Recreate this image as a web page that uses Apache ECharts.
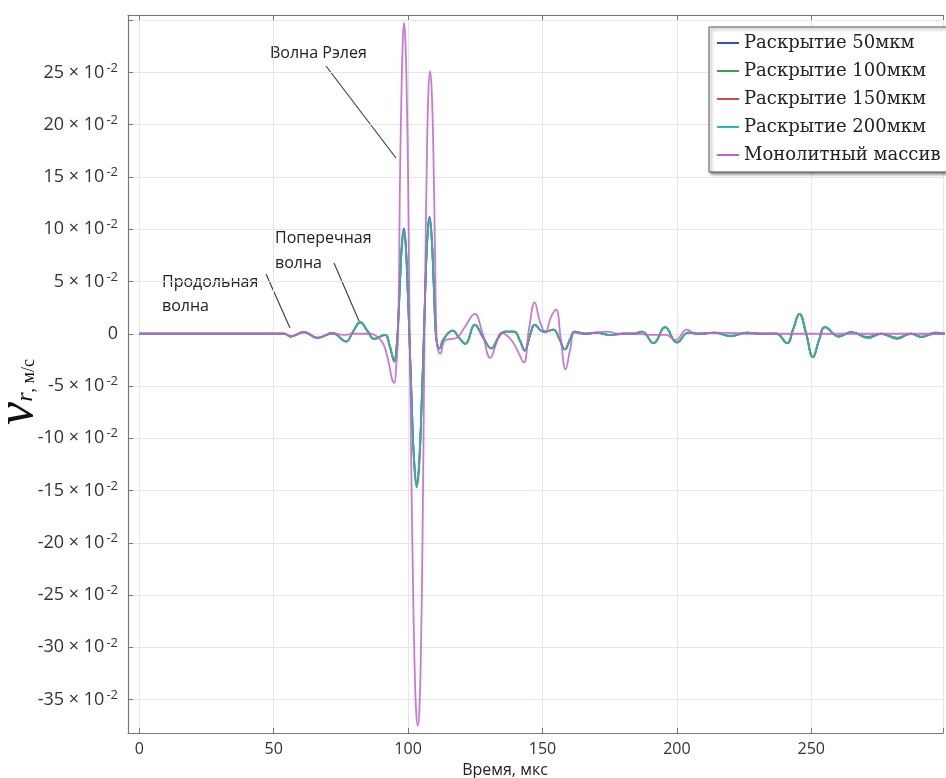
<!DOCTYPE html>
<html>
<head>
<meta charset="utf-8">
<script src="https://cdn.jsdelivr.net/npm/echarts@6/dist/echarts.min.js"></script>
<style>
  html, body { margin: 0; padding: 0; background: #fff; }
  #chart { width: 946px; height: 778px; }
</style>
</head>
<body>
<div id="chart"></div>
<script>
// Series names shown in the legend
const seriesNames = ['Раскрытие 50мкм', 'Раскрытие 100мкм', 'Раскрытие 150мкм', 'Раскрытие 200мкм', 'Монолитный массив'];

// Time samples (мкс) for the jointed-massif traces
const tOpen = [
  0, 50, 54, 56.3, 61.3, 66.3, 71.9, 76.9, 79.5, 82.2,
  84.8, 87.4, 91.3, 93.2, 94.2, 94.9, 95.6, 96.2, 97.0, 97.7,
  98.4, 99.1, 99.8, 100.6, 101.4, 102.2, 103.2, 104.1, 105.0, 105.9,
  106.7, 107.4, 108.0, 108.7, 109.5, 110.3, 111.0, 111.7, 113.0, 116.6,
  119.0, 121.3, 124.8, 128.0, 131.0, 133.5, 136.0, 139.5, 141.5, 143.4,
  145.3, 147.1, 149.5, 151.0, 154.0, 156.3, 158.3, 160.3, 162.0, 166,
  170, 175, 180, 184, 187, 191.3, 195.6, 200, 204.3, 208,
  214, 220, 226, 232, 237, 241, 243.2, 245.6, 248.1, 250.6,
  252.9, 255.1, 260.3, 265, 271, 276, 282, 287, 291, 296,
  300
];

// Radial velocity v_r (м/с), aperture 50 мкм
const vOpen50 = [
  0, 0, 0, -0.0026, 0.0016, -0.004, 0.0005, -0.0074, 0.002, 0.011,
  0.003, -0.005, -0.001, -0.012, -0.022, -0.0268, -0.016, 0.005, 0.051, 0.087,
  0.101, 0.088, 0.047, -0.010, -0.071, -0.122, -0.147, -0.127, -0.071, 0.000,
  0.067, 0.103, 0.112, 0.097, 0.051, 0.000, -0.012, -0.014, -0.006, 0.003,
  -0.004, -0.0096, 0.0086, -0.004, -0.014, -0.004, 0.002, 0.002, -0.006, -0.016,
  -0.002, 0.0086, 0.003, 0.002, 0.004, -0.005, -0.015, -0.005, 0.002, 0.000,
  0.001, -0.001, 0.000, 0.000, 0.002, -0.009, 0.0064, -0.0085, 0.001, 0.000,
  0.001, -0.002, 0.001, 0.000, 0.000, -0.009, 0.004, 0.019, 0.000, -0.0224,
  -0.006, 0.0064, -0.0026, 0.0016, -0.003, 0.000, -0.004, 0.000, -0.003, 0.001,
  0
];

// aperture 100 мкм
const vOpen100 = [
  0, 0, 0, -0.0026, 0.0016, -0.004, 0.0005, -0.0074, 0.002, 0.011,
  0.003, -0.005, -0.001, -0.012, -0.022, -0.0265, -0.016, 0.005, 0.050, 0.086,
  0.099, 0.086, 0.046, -0.010, -0.070, -0.120, -0.144, -0.125, -0.070, 0.000,
  0.066, 0.101, 0.110, 0.096, 0.050, 0.000, -0.012, -0.014, -0.006, 0.003,
  -0.004, -0.0096, 0.0086, -0.004, -0.014, -0.004, 0.002, 0.002, -0.006, -0.016,
  -0.002, 0.0086, 0.003, 0.002, 0.004, -0.005, -0.015, -0.005, 0.002, 0.000,
  0.001, -0.001, 0.000, 0.000, 0.002, -0.009, 0.0064, -0.0083, 0.001, 0.000,
  0.001, -0.002, 0.001, 0.000, 0.000, -0.009, 0.004, 0.019, 0.000, -0.0224,
  -0.006, 0.0064, -0.0026, 0.0016, -0.004, 0.000, -0.004, 0.000, -0.003, 0.001,
  0
];

// aperture 150 мкм
const vOpen150 = [
  0, 0, 0, -0.0026, 0.0016, -0.004, 0.0005, -0.0074, 0.002, 0.011,
  0.003, -0.005, -0.001, -0.012, -0.022, -0.0262, -0.016, 0.005, 0.049, 0.083,
  0.096, 0.083, 0.044, -0.010, -0.069, -0.118, -0.142, -0.123, -0.069, 0.000,
  0.064, 0.098, 0.107, 0.093, 0.049, 0.000, -0.012, -0.014, -0.006, 0.003,
  -0.004, -0.0096, 0.0086, -0.004, -0.014, -0.004, 0.002, 0.002, -0.006, -0.016,
  -0.002, 0.0086, 0.003, 0.002, 0.004, -0.005, -0.015, -0.005, 0.002, 0.000,
  0.001, -0.001, 0.000, 0.000, 0.002, -0.009, 0.0064, -0.0083, 0.001, 0.000,
  0.001, -0.002, 0.001, 0.000, 0.000, -0.009, 0.004, 0.019, 0.000, -0.0222,
  -0.006, 0.0064, -0.0026, 0.0016, -0.004, 0.000, -0.005, 0.000, -0.003, 0.000,
  0
];

// aperture 200 мкм
const vOpen200 = [
  0, 0, 0, -0.0026, 0.0016, -0.004, 0.0005, -0.0074, 0.002, 0.011,
  0.003, -0.005, -0.001, -0.012, -0.022, -0.0265, -0.016, 0.005, 0.050, 0.085,
  0.098, 0.085, 0.045, -0.010, -0.070, -0.120, -0.145, -0.125, -0.070, 0.000,
  0.065, 0.100, 0.109, 0.095, 0.050, 0.000, -0.012, -0.014, -0.006, 0.003,
  -0.004, -0.0096, 0.0086, -0.004, -0.014, -0.004, 0.002, 0.002, -0.006, -0.016,
  -0.002, 0.0086, 0.003, 0.002, 0.004, -0.005, -0.015, -0.005, 0.002, 0.000,
  0.001, -0.001, 0.000, 0.000, 0.002, -0.009, 0.0064, -0.0083, 0.001, 0.000,
  0.001, -0.002, 0.001, 0.000, 0.000, -0.009, 0.004, 0.019, 0.000, -0.0224,
  -0.006, 0.0064, -0.0026, 0.0016, -0.004, 0.000, -0.004, 0.000, -0.003, 0.001,
  0
];

// Time samples and v_r for the monolithic massif
const tMono = [
  0, 50, 54, 56.3, 61.3, 66.3, 71.9, 76.0, 80.0, 86.0,
  88.0, 89.9, 91.0, 91.8, 93.0, 94.0, 94.9, 95.6, 96.3, 97.0,
  97.5, 98.0, 98.5, 99.0, 99.5, 100.0, 100.6, 101.2, 101.8, 102.4,
  103.0, 103.6, 104.2, 104.8, 105.4, 106.0, 106.4, 107.0, 107.6, 108.2,
  108.8, 109.4, 110.0, 110.6, 111.2, 112.0, 113.0, 114.0, 116.0, 118.0,
  121.0, 124.8, 127.5, 130.6, 132.7, 134.7, 138.4, 140.5, 143.0, 145.0,
  147.1, 149.0, 151.1, 153.0, 155.0, 156.8, 158.6, 160.3, 162.0, 165,
  170, 174, 178, 185, 190, 196, 199.5, 203.7, 207, 215,
  230, 250, 270, 300
];
const vMono = [
  0, 0, 0, -0.0026, 0.0016, -0.004, 0.0005, -0.001, 0, 0,
  -0.002, -0.0064, -0.011, -0.017, -0.030, -0.043, -0.047, -0.030, 0.000, 0.150,
  0.225, 0.278, 0.2975, 0.280, 0.230, 0.150, 0.000, -0.130, -0.235, -0.315,
  -0.362, -0.375, -0.360, -0.300, -0.190, -0.030, 0.060, 0.170, 0.235, 0.251,
  0.232, 0.175, 0.080, -0.005, -0.016, -0.019, -0.010, -0.006, -0.005, -0.004,
  0.006, 0.019, 0.002, -0.023, -0.010, 0.001, -0.006, -0.015, -0.0275, 0.005,
  0.030, 0.012, 0.001, 0.015, 0.023, -0.005, -0.034, -0.015, 0.001, 0,
  0.001, 0.002, 0, 0, -0.001, -0.001, -0.006, 0.004, 0, 0.001,
  0, 0, 0, 0
];

const lineColors = ['#3550cf', '#3a9e55', '#d84848', '#2ab8b8', '#c260cb'];

const zip = (t, v) => t.map((x, i) => [x, v[i]]);

const chart = echarts.init(document.getElementById('chart'), null, { renderer: 'canvas' });

const tickFont = 'Open Sans';
const noteFont = '16px "Open Sans"';

// y labels in the form "25 × 10⁻²"; the 0.30 line stays unlabeled
function yLabel(v) {
  const n = Math.round(v * 100);
  if (Math.abs(v * 100 - n) > 1e-6 || n % 5 !== 0 || n > 25) return '';
  if (n === 0) return '{m|0}';
  return '{m|' + n + ' × 10}{s|-2}';
}
function xLabel(v) {
  const n = Math.round(v);
  if (Math.abs(v - n) > 1e-6 || n % 50 !== 0) return '';
  return String(n);
}

const openSeries = [vOpen50, vOpen100, vOpen150, vOpen200].map((vals, i) => ({
  name: seriesNames[i],
  type: 'line',
  data: zip(tOpen, vals),
  smooth: 0.45,
  symbol: 'none',
  showSymbol: false,
  z: [2, 4, 3, 5][i],
  lineStyle: { width: 1.8, color: lineColors[i], opacity: 0.8 },
  itemStyle: { color: lineColors[i] },
  emphasis: { disabled: true },
  animation: false
}));

const option = {
  animation: false,
  grid: { left: 128, right: 0, top: 15, bottom: 45 },
  xAxis: [
    {
      type: 'value',
      min: -4.2,
      max: 299,
      minInterval: 50,
      maxInterval: 50,
      axisLine: { show: true, onZero: false, lineStyle: { color: '#777', width: 1.2 } },
      axisTick: { show: true, inside: true, length: 5, lineStyle: { color: '#777' } },
      axisLabel: {
        formatter: xLabel, margin: 8, color: '#333',
        fontFamily: tickFont, fontSize: 16
      },
      splitLine: { show: true, lineStyle: { color: '#e6e6e6', width: 1 } }
    },
    {
      type: 'value',
      position: 'top',
      min: -4.2,
      max: 299,
      minInterval: 50,
      maxInterval: 50,
      axisLine: { show: true, onZero: false, lineStyle: { color: '#777', width: 1.2 } },
      axisTick: { show: true, inside: true, length: 5, lineStyle: { color: '#777' } },
      axisLabel: { show: false },
      splitLine: { show: false }
    }
  ],
  yAxis: {
    type: 'value',
    min: -0.382,
    max: 0.305,
    minInterval: 0.05,
    maxInterval: 0.05,
    axisLine: { show: true, onZero: false, lineStyle: { color: '#777', width: 1.2 } },
    axisTick: { show: true, inside: true, length: 5, lineStyle: { color: '#777' } },
    axisLabel: {
      formatter: yLabel,
      margin: 10,
      rich: {
        m: { fontFamily: tickFont, fontSize: 18, color: '#333', lineHeight: 22 },
        s: { fontFamily: tickFont, fontSize: 13, color: '#333', verticalAlign: 'top', lineHeight: 14, padding: [0, 0, 0, 2] }
      }
    },
    splitLine: { show: true, lineStyle: { color: '#e6e6e6', width: 1 } }
  },
  legend: {
    orient: 'vertical',
    left: 709,
    top: 27,
    padding: [6, 8, 7, 8],
    itemGap: 8,
    itemWidth: 22,
    itemHeight: 2,
    icon: 'rect',
    backgroundColor: '#fff',
    borderColor: '#555',
    borderWidth: 1,
    shadowColor: 'rgba(0,0,0,0.45)',
    shadowBlur: 3,
    shadowOffsetX: 2,
    shadowOffsetY: 2,
    selectedMode: false,
    data: seriesNames,
    textStyle: { fontFamily: 'DejaVu Serif', fontSize: 18, color: '#222', lineHeight: 20 }
  },
  series: openSeries.concat([{
    name: seriesNames[4],
    type: 'line',
    data: zip(tMono, vMono),
    smooth: 0.45,
    symbol: 'none',
    showSymbol: false,
    z: 6,
    lineStyle: { width: 1.8, color: lineColors[4], opacity: 0.85 },
    itemStyle: { color: lineColors[4] },
    emphasis: { disabled: true },
    animation: false
  }]),
  graphic: [
    // axis titles
    {
      type: 'text', x: 505, y: 770,
      style: { text: 'Время, мкс', font: '16px "Open Sans"', fill: '#222', align: 'center', verticalAlign: 'middle' }
    },
    {
      type: 'text', x: 18, y: 392, rotation: Math.PI / 2,
      style: {
        text: '{v|v}{r|r}{u|, м/с}',
        align: 'center', verticalAlign: 'middle',
        rich: {
          v: { fontFamily: 'Liberation Serif', fontStyle: 'italic', fontSize: 52, fill: '#111', lineHeight: 40 },
          r: { fontFamily: 'Liberation Serif', fontStyle: 'italic', fontSize: 24, fill: '#111', verticalAlign: 'bottom', lineHeight: 30 },
          u: { fontFamily: 'Liberation Serif', fontSize: 18, fill: '#111', verticalAlign: 'bottom', lineHeight: 30 }
        }
      }
    },
    // wave annotations
    {
      type: 'text', x: 270, y: 53,
      style: { text: 'Волна Рэлея', font: noteFont, fill: '#222', verticalAlign: 'middle' }
    },
    { type: 'line', shape: { x1: 326, y1: 66, x2: 396, y2: 158 }, style: { stroke: '#444', lineWidth: 1.2 } },
    {
      type: 'text', x: 275, y: 238,
      style: { text: 'Поперечная', font: noteFont, fill: '#222', verticalAlign: 'middle' }
    },
    {
      type: 'text', x: 275, y: 263,
      style: { text: 'волна', font: noteFont, fill: '#222', verticalAlign: 'middle' }
    },
    { type: 'line', shape: { x1: 334, y1: 263, x2: 359, y2: 321 }, style: { stroke: '#444', lineWidth: 1.2 } },
    {
      type: 'text', x: 162, y: 282,
      style: { text: 'Продольная', font: noteFont, fill: '#222', verticalAlign: 'middle' }
    },
    {
      type: 'text', x: 162, y: 306,
      style: { text: 'волна', font: noteFont, fill: '#222', verticalAlign: 'middle' }
    },
    { type: 'line', shape: { x1: 266, y1: 274, x2: 290, y2: 328 }, style: { stroke: '#444', lineWidth: 1.2 } }
  ]
};

chart.setOption(option);
</script>
</body>
</html>
